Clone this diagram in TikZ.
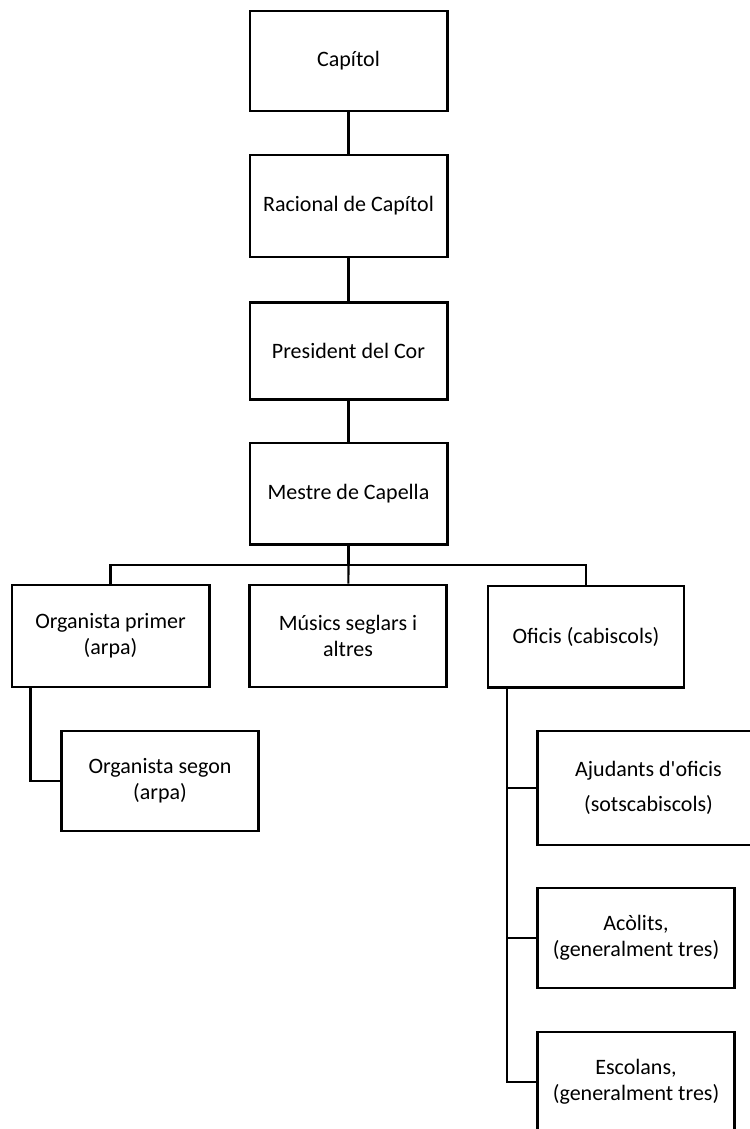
\documentclass[tikz,border=0pt]{standalone}
\usepackage{fontspec}
\setmainfont{Carlito}
\usepackage{xcolor}
\usepackage{tikz}
\usetikzlibrary{positioning}
\definecolor{inkblack}{HTML}{000000}
\tikzset{
  orgbox/.style={draw=inkblack,line width=2pt,fill=white,inner sep=2pt,align=center,
    font=\fontsize{16.5pt}{19.5pt}\selectfont,text=inkblack,minimum width=148pt,minimum height=75pt},
  orgline/.style={draw=inkblack,line width=1.6pt},
}

\begin{document}
\begin{tikzpicture}[x=0.75pt,y=-0.75pt]
    \useasboundingbox (0,0) rectangle (750,1129);
    \clip (0,0) rectangle (750,1129);
    \node[orgbox] (cap) at (348.5,61) {Capítol};
    \node[orgbox,minimum height=76.5pt] (rac) at (348.5,206) {Racional de Capítol};
    \node[orgbox,minimum height=72.5pt] (pres) at (348.5,351) {President del Cor};
    \node[orgbox,minimum height=76pt] (mes) at (348.5,493.5) {Mestre de Capella};
    \coordinate (bus) at (348.5,565);
    \node[orgbox,minimum height=76.5pt] (org1) at (110.5,636) {Organista primer\\(arpa)};
    \node[orgbox,minimum height=76.5pt] (mus) at (348,636) {Músics seglars i\\altres};
    \node[orgbox,minimum width=147pt,minimum height=76pt] (ofi) at (586,636.5) {Oficis (cabiscols)};
    \node[orgbox] (org2) at (160,781) {Organista segon\\(arpa)};
    \node[orgbox,minimum width=167pt,minimum height=85.5pt,font=\fontsize{16.5pt}{26pt}\selectfont] (aju) at (648.5,788) {Ajudants d\textquotesingle oficis\\(sotscabiscols)};
    \node[orgbox] (aco) at (636,938) {Acòlits,\\(generalment tres)};
    \node[orgbox] (esc) at (636,1082) {Escolans,\\(generalment tres)};
    \draw[orgline] (cap)--(rac); \draw[orgline] (rac)--(pres); \draw[orgline] (pres)--(mes);
    \draw[orgline] (mes)--(bus); \draw[orgline] (bus)--(mus);
    \draw[orgline] (org1.north) |- (bus) -| (ofi.north);
    \draw[orgline] ([xshift=15pt]org1.south west) |- (org2.west);
    \draw[orgline] ([xshift=15pt]ofi.south west) |- (aju.west);
    \draw[orgline] ([xshift=15pt]ofi.south west) |- (aco.west);
    \draw[orgline] ([xshift=15pt]ofi.south west) |- (esc.west);
  \end{tikzpicture}
\end{document}
